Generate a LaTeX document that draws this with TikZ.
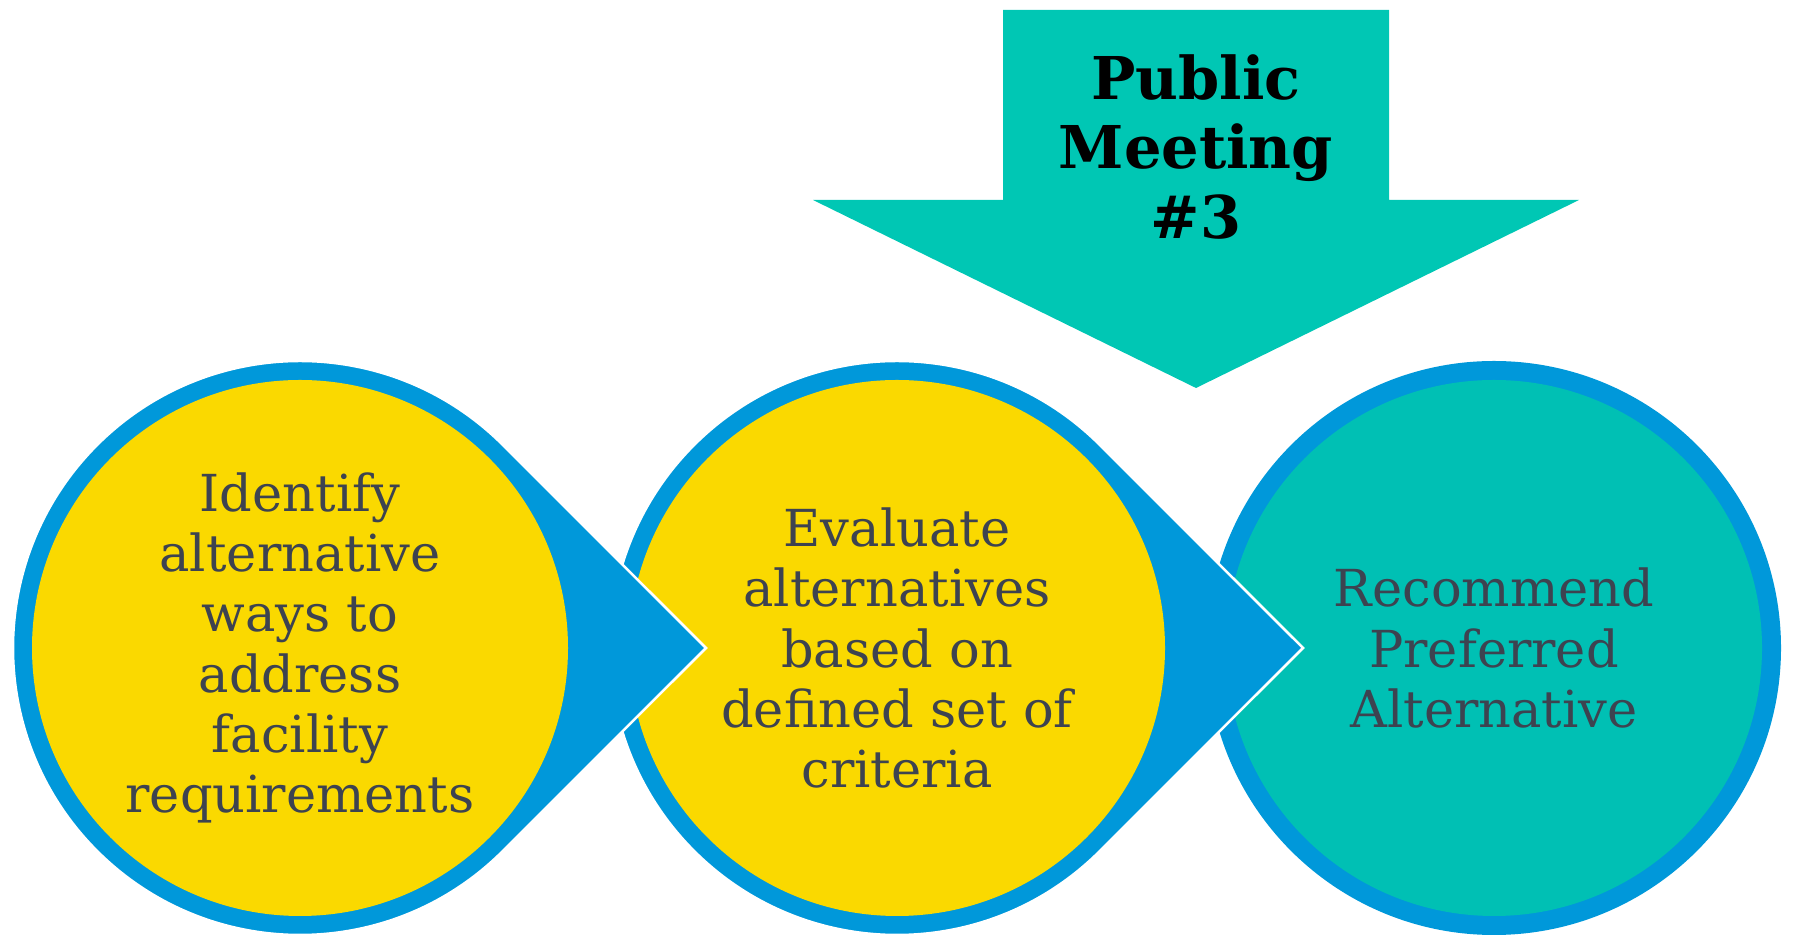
\documentclass[tikz,border=0pt]{standalone}
\usepackage{fontspec}
\setmainfont{DejaVu Serif}
\usetikzlibrary{positioning,calc}

\definecolor{ringblue}{RGB}{0,152,218}
\definecolor{stepyellow}{RGB}{250,217,0}
\definecolor{stepteal}{RGB}{0,192,180}
\definecolor{arrowteal}{RGB}{0,199,180}
\definecolor{textgray}{RGB}{61,67,80}

\begin{document}
\begin{tikzpicture}[x=1pt, y=1pt,
		drop/.style = {fill=ringblue, draw=white, line width=2.5pt, line join=miter},
		stage/.style = {circle, minimum size=536pt, inner sep=0pt, align=center, text=textgray, font=\fontsize{51}{60.3}\selectfont}]
		\useasboundingbox (0,0) rectangle (1796,936);
		\coordinate (c1) at (300,288);
		\coordinate (c2) at (897,288);
		\coordinate (c3) at (1494,288);
		% meeting arrow
		\fill[arrowteal] (1003,926) -- (1389,926) -- (1389,736) -- (1579,736) -- (1196,548) -- (813,736) -- (1003,736) -- cycle;
		\node[font=\bfseries\fontsize{59}{69.5}\selectfont, align=center] (meet) at (1196,789) {Public\\Meeting\\\#3};
		% stages, last one first so each pointer lies on the next
		\fill[ringblue] (c3) circle (287pt);
		\node[stage, fill=stepteal] (s3) at (c3) {Recommend\\Preferred\\Alternative};
		\draw[drop] ($(c2)+(45:287pt)$) arc[start angle=45, end angle=315, radius=287pt] -- ($(c2)+(406,0)$) -- cycle;
		\node[stage, fill=stepyellow] (s2) at (c2) {Evaluate\\alternatives\\based on\\defined set of\\criteria};
		\draw[drop] ($(c1)+(45:287pt)$) arc[start angle=45, end angle=315, radius=287pt] -- ($(c1)+(406,0)$) -- cycle;
		\node[stage, fill=stepyellow] (s1) at (c1) {Identify\\alternative\\ways to\\address\\facility\\requirements};
	\end{tikzpicture}
\end{document}
